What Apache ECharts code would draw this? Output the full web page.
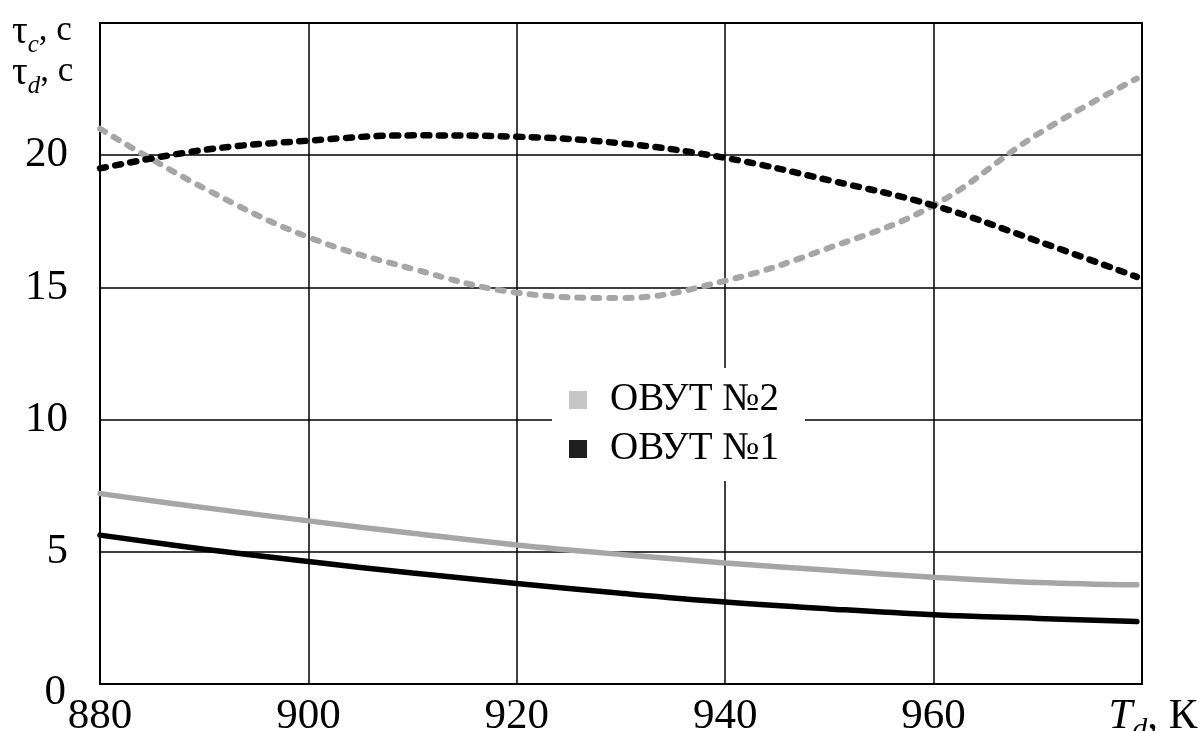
<!DOCTYPE html>
<html>
<head>
<meta charset="utf-8">
<script src="https://cdn.jsdelivr.net/npm/echarts@6/dist/echarts.min.js"></script>
<style>
html,body{margin:0;padding:0;background:#fff;}
#chart{width:1203px;height:731px;}
</style>
</head>
<body>
<div id="chart"></div>
<script>
// Temperature T_d, K
const temps = [880, 890, 900, 910, 920, 930, 940, 950, 960, 970, 979.5];
// tau_d (dashed), s
const tauD_ovut2 = [21.0, 18.75, 16.9, 15.7, 14.8, 14.6, 15.25, 16.5, 18.1, 20.8, 22.9];
const tauD_ovut1 = [19.5, 20.2, 20.55, 20.75, 20.7, 20.45, 19.9, 19.05, 18.1, 16.75, 15.4];
// tau_c (solid), s
const tauC_ovut2 = [7.2, 6.67, 6.17, 5.7, 5.26, 4.9, 4.58, 4.3, 4.04, 3.84, 3.75];
const tauC_ovut1 = [5.63, 5.1, 4.63, 4.2, 3.8, 3.43, 3.1, 2.84, 2.62, 2.48, 2.36];
const xTicks = [880, 900, 920, 940, 960, 980];
const yTicks = [0, 5, 10, 15, 20, 25];
const legendNames = ['ОВУТ №2', 'ОВУТ №1'];

const GREY = '#a6a6a6';
const BLACK = '#000000';
const FONT = '"Liberation Serif", "DejaVu Serif", serif';

function pairs(xs, ys) { return xs.map((x, i) => [x, ys[i]]); }

const titleRich = {
  t: {fontFamily: FONT, fontSize: 39, fontWeight: 'normal', lineHeight: 41, color: '#000', verticalAlign: 'top', padding: [2, 0, 0, 0]},
  n: {fontFamily: FONT, fontSize: 35, fontWeight: 'normal', lineHeight: 41, color: '#000', verticalAlign: 'top', padding: [2, 0, 0, 0]},
  s: {fontFamily: FONT, fontSize: 25, fontWeight: 'normal', fontStyle: 'italic', lineHeight: 14, padding: [22, 0, 0, 0], color: '#000', verticalAlign: 'top'}
};

const chart = echarts.init(document.getElementById('chart'), null, {renderer: 'canvas'});
const option = {
  backgroundColor: '#fff',
  animation: false,
  graphic: [
    {type: 'text', left: 12, top: 11, z: 10, style: {text: '{t|τ}{s|c}{n|, с}', rich: titleRich, font: '35px ' + FONT}},
    {type: 'text', left: 12, top: 52, z: 10, style: {text: '{t|τ}{s|d}{n|, с}', rich: titleRich, font: '35px ' + FONT}}
  ],
  grid: {left: 100, right: 61, top: 23, bottom: 47, outerBoundsMode: 'none', containLabel: false,
         show: true, borderColor: '#000', borderWidth: 2, backgroundColor: 'transparent'},
  legend: {
    orient: 'vertical',
    left: 552, top: 368,
    backgroundColor: '#fff',
    padding: [10, 26, 10, 17],
    itemGap: 5,
    icon: 'rect',
    itemWidth: 18, itemHeight: 18,
    textStyle: {fontFamily: FONT, fontSize: 39, color: '#000', lineHeight: 44, padding: [0, 0, 0, 18]},
    data: [
      {name: legendNames[0], itemStyle: {color: '#c6c6c6'}},
      {name: legendNames[1], itemStyle: {color: '#1e1e1e'}}
    ]
  },
  xAxis: {
    type: 'value', min: xTicks[0], max: xTicks[xTicks.length - 1], interval: 20,
    axisLine: {show: true, lineStyle: {color: '#000', width: 2}},
    axisTick: {show: false},
    splitLine: {show: true, lineStyle: {color: '#000', width: 1.5}},
    axisLabel: {
      margin: 11,
      fontFamily: FONT, fontSize: 43, color: '#000', lineHeight: 43,
      formatter: function (v) {
        if (v === xTicks[xTicks.length - 1]) return '{t|T}{s|d}{n|, К}';
        return String(v);
      },
      rich: {
        t: {fontFamily: FONT, fontSize: 43, fontStyle: 'italic', color: '#000', padding: [0, 0, 0, 22], verticalAlign: 'top', lineHeight: 43},
        s: {fontFamily: FONT, fontSize: 30, fontStyle: 'italic', color: '#000', verticalAlign: 'top', lineHeight: 14, padding: [20, 0, 0, 0]},
        n: {fontFamily: FONT, fontSize: 43, color: '#000', verticalAlign: 'top', lineHeight: 43}
      }
    }
  },
  yAxis: {
    type: 'value', min: yTicks[0], max: yTicks[yTicks.length - 1], interval: 5,
    axisLine: {show: true, lineStyle: {color: '#000', width: 2}},
    axisTick: {show: false},
    splitLine: {show: true, lineStyle: {color: '#000', width: 1.5}},
    axisLabel: {
      margin: 32,
      fontFamily: FONT, fontSize: 43, color: '#000',
      formatter: function (v) {
        if (v === yTicks[yTicks.length - 1]) return '';
        if (v === 0) return '{z|0}';
        return String(v);
      },
      rich: {
        z: {fontFamily: FONT, fontSize: 43, color: '#000', padding: [18, 2, 0, 0]}
      }
    }
  },
  series: [
    {name: legendNames[0], type: 'line', data: pairs(temps, tauD_ovut2), smooth: 0.4, symbol: 'none', z: 3,
     lineStyle: {color: GREY, width: 6, type: [6, 10], cap: 'round'}, itemStyle: {color: GREY}},
    {name: legendNames[1], type: 'line', data: pairs(temps, tauD_ovut1), smooth: 0.4, symbol: 'none', z: 4,
     lineStyle: {color: BLACK, width: 6.5, type: [6, 9.5], cap: 'round'}, itemStyle: {color: BLACK}},
    {name: legendNames[0], type: 'line', data: pairs(temps, tauC_ovut2), smooth: 0.4, symbol: 'none', z: 3,
     lineStyle: {color: GREY, width: 5.5, cap: 'round'}, itemStyle: {color: GREY}},
    {name: legendNames[1], type: 'line', data: pairs(temps, tauC_ovut1), smooth: 0.4, symbol: 'none', z: 4,
     lineStyle: {color: BLACK, width: 5.5, cap: 'round'}, itemStyle: {color: BLACK}}
  ]
};
chart.setOption(option);
</script>
</body>
</html>
